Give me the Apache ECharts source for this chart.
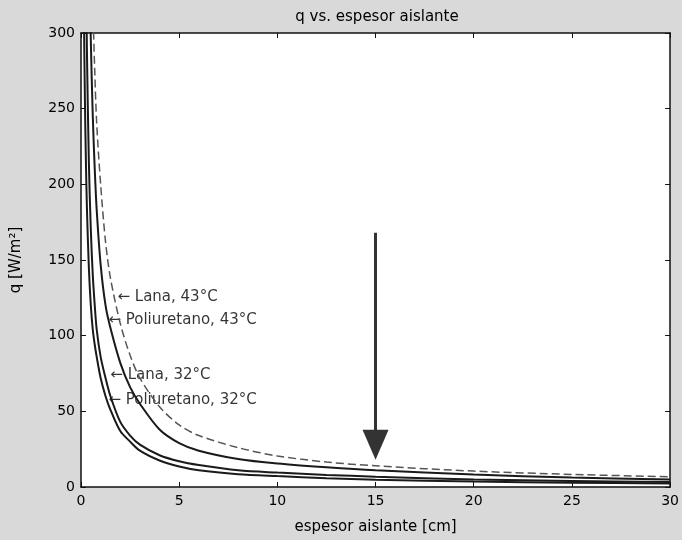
<!DOCTYPE html>
<html>
<head>
<meta charset="utf-8">
<script src="https://cdn.jsdelivr.net/npm/echarts@6/dist/echarts.min.js"></script>
<style>
html,body{margin:0;padding:0;background:#d9d9d9;}
#c{width:682px;height:540px;}
</style>
</head>
<body>
<div id="c"></div>
<script>
// espesor aislante [cm]
const espesor = [0.15,0.2,0.25,0.3,0.4,0.5,0.6,0.7,0.8,1,1.25,1.5,2,2.5,3,4,5,6,8,10,12.5,15,20,25,30];
// q [W/m2] (values above 300 are clipped by the axis)
const lana43 = [1300,1000,800,660,500,390,320,275,240,200,162,138,108,87,72,53,41,34,26,20.5,16.5,14,10.5,8.3,6.8];
const poli43 = [1000,750,600,500,370,295,245,210,183,147,120,105,82,66,55,38,29,24,18.5,15.5,13,11,8.2,6.2,5];
const lana32 = [600,450,350,290,215,170,140,120,104,86,72,60,43,34,28,21,17,14.5,11,9.5,8,6.8,5,4,3.3];
const poli32 = [310,255,215,185,145,120,104,94,86,72,60,51,37,30,24,17.5,13.5,11,8.5,7.2,5.8,4.8,3.6,2.8,2.3];

const xTicks = {min:0, max:30, step:5};
const yTicks = {min:0, max:300, step:50};

const annotations = [
  {text:'Lana, 43\u00b0C', x:1.83, y:125.6},
  {text:'Poliuretano, 43\u00b0C', x:1.37, y:110},
  {text:'Lana, 32\u00b0C', x:1.47, y:74},
  {text:'Poliuretano, 32\u00b0C', x:1.37, y:57.5}
];
const arrowPts = [[15,168],[15,28]];

const zip = (xs, ys) => xs.map((x,i)=>[x, ys[i]]);
const font = 'DejaVu Sans, sans-serif';

const chart = echarts.init(document.getElementById('c'));
const baseX = {
  type:'value', min:xTicks.min, max:xTicks.max, interval:xTicks.step,
  axisLine:{show:true, onZero:false, lineStyle:{color:'#111', width:1.5}},
  axisTick:{show:true, inside:true, length:5, lineStyle:{color:'#111'}},
  splitLine:{show:false}
};
const baseY = {
  type:'value', min:yTicks.min, max:yTicks.max, interval:yTicks.step,
  axisLine:{show:true, onZero:false, lineStyle:{color:'#111', width:1.5}},
  axisTick:{show:true, inside:true, length:5, lineStyle:{color:'#111'}},
  splitLine:{show:false}
};
const lineSeries = (name, ys, style) => ({
  name, type:'line', data:zip(espesor, ys), showSymbol:false, smooth:0.3,
  clip:true, lineStyle:style, silent:true
});

chart.setOption({
  backgroundColor:'#d9d9d9',
  animation:false,
  title:{text:'q vs. espesor aislante', left:372, top:5, textAlign:'center',
    textStyle:{fontFamily:font, fontSize:15, fontWeight:'normal', color:'#000'}},
  grid:{left:81, right:10, top:33, bottom:53, show:true, backgroundColor:'#fff', borderWidth:0},
  xAxis:[
    Object.assign({}, baseX, {position:'bottom', name:'espesor aislante [cm]', nameLocation:'middle', nameGap:33,
      nameTextStyle:{fontFamily:font, fontSize:15, color:'#000'},
      axisLabel:{fontFamily:font, fontSize:14, color:'#000', margin:7}}),
    Object.assign({}, baseX, {position:'top', axisLabel:{show:false}})
  ],
  yAxis:[
    Object.assign({}, baseY, {position:'left', name:'q [W/m\u00b2]', nameLocation:'middle', nameGap:57, nameRotate:90,
      nameTextStyle:{fontFamily:font, fontSize:15, color:'#000'},
      axisLabel:{fontFamily:font, fontSize:14, color:'#000', margin:6}}),
    Object.assign({}, baseY, {position:'right', axisLabel:{show:false}})
  ],
  series:[
    lineSeries('Lana, 43°C', lana43, {color:'#555', width:1.5, type:[8,4]}),
    lineSeries('Poliuretano, 43°C', poli43, {color:'#1a1a1a', width:2}),
    lineSeries('Lana, 32°C', lana32, {color:'#1a1a1a', width:2}),
    lineSeries('Poliuretano, 32°C', poli32, {color:'#1a1a1a', width:2}),
    {
      type:'scatter', symbol:'circle', symbolSize:1, silent:true,
      itemStyle:{color:'rgba(0,0,0,0)'},
      data:annotations.map(a=>({value:[a.x, a.y], label:{formatter:'{a|\u2190} ' + a.text}})),
      label:{show:true, position:'right', distance:0, fontFamily:font, fontSize:15, color:'#000',
        rich:{a:{fontFamily:font, fontSize:15, color:'#000'}}},
      markLine:{
        silent:true, symbol:['none','triangle'], symbolSize:[26,30],
        label:{show:false},
        lineStyle:{color:'#333', width:3, type:'solid', opacity:1},
        itemStyle:{color:'#333'},
        data:[[{coord:arrowPts[0]},{coord:arrowPts[1]}]]
      }
    }
  ]
});
</script>
</body>
</html>
